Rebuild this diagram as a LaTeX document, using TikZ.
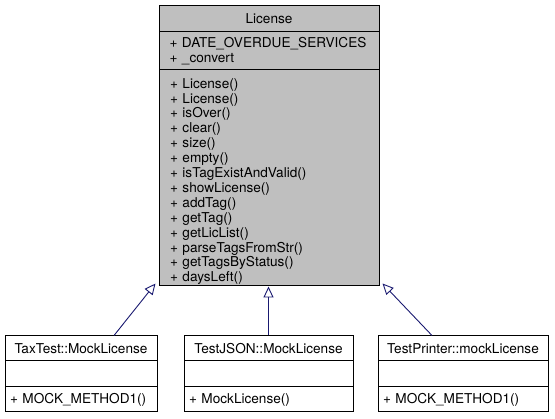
\documentclass[tikz,border=0pt]{standalone}
\usepackage{fontspec}
\setmainfont{TeX Gyre Heros}
\usetikzlibrary{arrows.meta}
\definecolor{clsgray}{HTML}{BFBFBF}
\definecolor{edgeblue}{HTML}{191970}

\begin{document}
\begin{tikzpicture}[
    x=1pt, y=-1pt,
    font=\fontsize{13.6}{14.9}\selectfont,
    part/.style={draw, line width=1pt, fill=white, inner ysep=0pt, align=left},
    title/.style={part, align=center},
    main/.style={fill=clsgray, text width=202pt, inner xsep=9pt},
    inh/.style={-{Triangle[open, length=11pt, width=10pt]}, edgeblue, line width=0.9pt}
  ]
    \useasboundingbox (0,0) rectangle (555,419);

    \node[title, main, minimum height=26pt] (lic) at (269,19) {License};
    \node[part, main, minimum height=38pt] (lica) at (269,51)
      {\hspace*{1.5pt}+~DATE\_OVERDUE\_SERVICES\\\hspace*{1.5pt}+ \_convert};
    \node[part, main, text width=198pt, inner xsep=11pt, minimum height=216pt] (licm) at (269,178)
      {\rule{0pt}{17pt}+ License()\\+ License()\\+ isOver()\\+ clear()\\+ size()\\+ empty()\\
       + isTagExistAndValid()\\+ showLicense()\\+ addTag()\\+ getTag()\\
       + getLicList()\\+ parseTagsFromStr()\\+ getTagsByStatus()\\+ daysLeft()};

    \node[title, text width=142pt, inner xsep=5pt, minimum height=25pt] (tax) at (81,348.5)
      {TaxTest::MockLicense};
    \node[part, text width=142pt, inner xsep=5pt, minimum height=26pt] (taxa) at (81,374) {};
    \node[part, text width=142pt, inner xsep=5pt, minimum height=25pt] (taxm) at (81,399.5)
      {+ MOCK\_METHOD1()};

    \node[title, text width=159pt, inner xsep=5pt, minimum height=25pt] (json) at (268.5,348.5)
      {TestJSON::MockLicense};
    \node[part, text width=159pt, inner xsep=5pt, minimum height=26pt] (jsona) at (268.5,374) {};
    \node[part, text width=159pt, inner xsep=5pt, minimum height=25pt] (jsonm) at (268.5,399.5)
      {+ MockLicense()};

    \node[title, text width=160pt, inner xsep=5pt, minimum height=25pt] (prn) at (463,348.5)
      {TestPrinter::mockLicense};
    \node[part, text width=160pt, inner xsep=5pt, minimum height=26pt] (prna) at (463,374) {};
    \node[part, text width=160pt, inner xsep=5pt, minimum height=25pt] (prnm) at (463,399.5)
      {+ MOCK\_METHOD1()};

    \draw[inh] ([xshift=33pt]tax.north) -- ([xshift=-3pt, yshift=3pt]licm.south west);
    \draw[inh] (json.north) -- (json.north |- licm.south);
    \draw[inh] ([xshift=-31pt]prn.north) -- ([xshift=3pt, yshift=3pt]licm.south east);
  \end{tikzpicture}
\end{document}
